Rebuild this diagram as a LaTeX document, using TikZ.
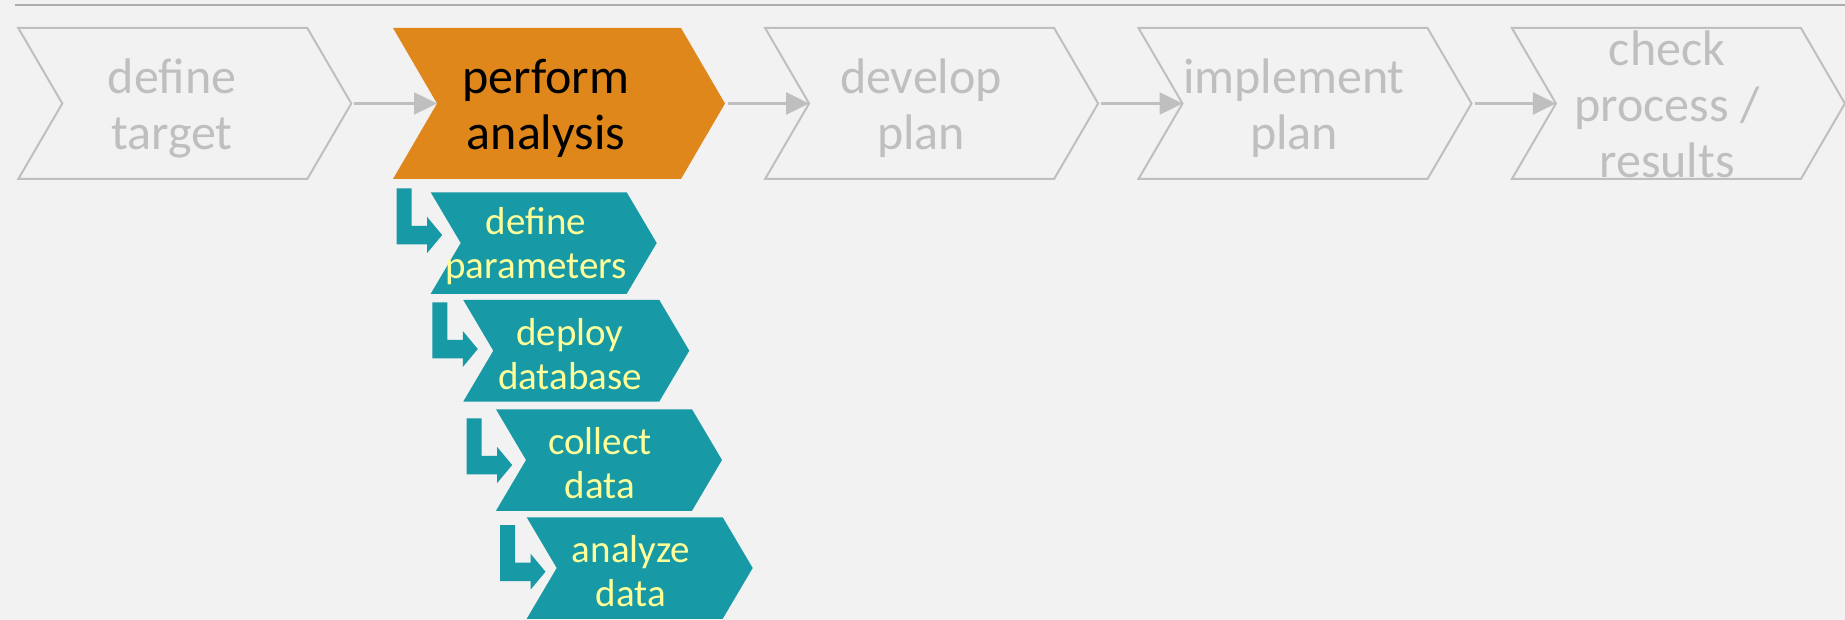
\documentclass[tikz,border=0pt]{standalone}
\usepackage{fontspec}
\setmainfont{Carlito}
\usepackage{xcolor}
\usepackage{tikz}
\usetikzlibrary{arrows.meta}
\definecolor{pagebg}{HTML}{F2F2F2}
\definecolor{stepgrey}{HTML}{BFBFBF}
\definecolor{rulegrey}{HTML}{ADADAD}
\definecolor{activeorange}{HTML}{DF871A}
\definecolor{subteal}{HTML}{179AA6}
\definecolor{subyellow}{HTML}{FFFF99}

\begin{document}
\begin{tikzpicture}[x=1pt, y=-1pt,
  mainstep/.style={draw=stepgrey, line width=2pt, line join=miter},
  mainlabel/.style={text=stepgrey, font=\fontsize{50}{56}\selectfont, align=center, inner sep=0pt},
  flowarrow/.style={draw=stepgrey, line width=2.5pt, -{Triangle[length=23pt, width=22pt]}, shorten <=3pt},
  substep/.style={fill=subteal},
  sublabel/.style={text=subyellow, font=\fontsize{39}{44}\selectfont, align=center, inner sep=0pt}]
  \useasboundingbox (0,0) rectangle (1845,620);
  \fill[pagebg] (0,0) rectangle (1845,620);
  \draw[rulegrey, line width=2.5pt] (15,5) -- (1845,5);
  % main steps
  \draw[mainstep] (18.3,28) -- (307.3,28) -- (351.3,103.5) -- (307.3,179) -- (18.3,179) -- (62.3,103.5) -- cycle;
  \fill[activeorange] (393,28) -- (681,28) -- (725,103.5) -- (681,179) -- (393,179) -- (437,103.5) -- cycle;
  \draw[mainstep] (765.1,28) -- (1054.1,28) -- (1098.1,103.5) -- (1054.1,179) -- (765.1,179) -- (809.1,103.5) -- cycle;
  \draw[mainstep] (1138.5,28) -- (1427.5,28) -- (1471.5,103.5) -- (1427.5,179) -- (1138.5,179) -- (1182.5,103.5) -- cycle;
  \draw[mainstep] (1511.9,28) -- (1800.9,28) -- (1844.9,103.5) -- (1800.9,179) -- (1511.9,179) -- (1555.9,103.5) -- cycle;
  \coordinate (target tip) at (351.3,103.5);
  \coordinate (analysis notch) at (437,103.5);
  \coordinate (analysis tip) at (725,103.5);
  \coordinate (develop notch) at (809.1,103.5);
  \coordinate (develop tip) at (1098.1,103.5);
  \coordinate (implement notch) at (1182.5,103.5);
  \coordinate (implement tip) at (1471.5,103.5);
  \coordinate (check notch) at (1555.9,103.5);
  \node[mainlabel] (target) at (172,108) {define\\target};
  \node[mainlabel, text=black] (analysis) at (546,108) {perform\\analysis};
  \node[mainlabel] (develop) at (921,108) {develop\\plan};
  \node[mainlabel] (implement) at (1294,108) {implement\\plan};
  \node[mainlabel] (check) at (1667,104) {check\\process /\\results};
  \draw[flowarrow] (target tip) -- (analysis notch);
  \draw[flowarrow] (analysis tip) -- (develop notch);
  \draw[flowarrow] (develop tip) -- (implement notch);
  \draw[flowarrow] (implement tip) -- (check notch);
  % sub steps of the analysis
  \fill[substep] (430.7,192.3) -- (626.7,192.3) -- (656.7,243) -- (626.7,293.8) -- (430.7,293.8) -- (460.7,243) -- cycle;
  \fill[substep] (463.3,300) -- (659.3,300) -- (689.3,350.7) -- (659.3,401.5) -- (463.3,401.5) -- (493.3,350.7) -- cycle;
  \fill[substep] (496,409.3) -- (692,409.3) -- (722,460) -- (692,510.8) -- (496,510.8) -- (526,460) -- cycle;
  \fill[substep] (526.7,517.3) -- (722.7,517.3) -- (752.7,568) -- (722.7,618.8) -- (526.7,618.8) -- (556.7,568) -- cycle;
  \fill[substep] (396.7,188.3) -- (411.7,188.3) -- (411.7,225.8) -- (427.2,225.8) -- (427.2,217) -- (442.2,235) -- (427.2,253) -- (427.2,244.3) -- (396.7,244.3) -- cycle;
  \fill[substep] (432.3,302.3) -- (447.3,302.3) -- (447.3,339.8) -- (462.8,339.8) -- (462.8,331) -- (477.8,349) -- (462.8,367) -- (462.8,358.3) -- (432.3,358.3) -- cycle;
  \fill[substep] (466.7,418.3) -- (481.7,418.3) -- (481.7,455.8) -- (497.2,455.8) -- (497.2,447) -- (512.2,465) -- (497.2,483) -- (497.2,474.3) -- (466.7,474.3) -- cycle;
  \fill[substep] (500,525) -- (515,525) -- (515,562.5) -- (530.5,562.5) -- (530.5,553.7) -- (545.5,571.7) -- (530.5,589.7) -- (530.5,581) -- (500,581) -- cycle;
  \node[sublabel] (parameters) at (536,246) {define\\parameters};
  \node[sublabel] (database) at (570,353.7) {deploy\\database};
  \node[sublabel] (collect) at (600,463) {collect\\data};
  \node[sublabel] (analyze) at (631,571) {analyze\\data};
\end{tikzpicture}
\end{document}
